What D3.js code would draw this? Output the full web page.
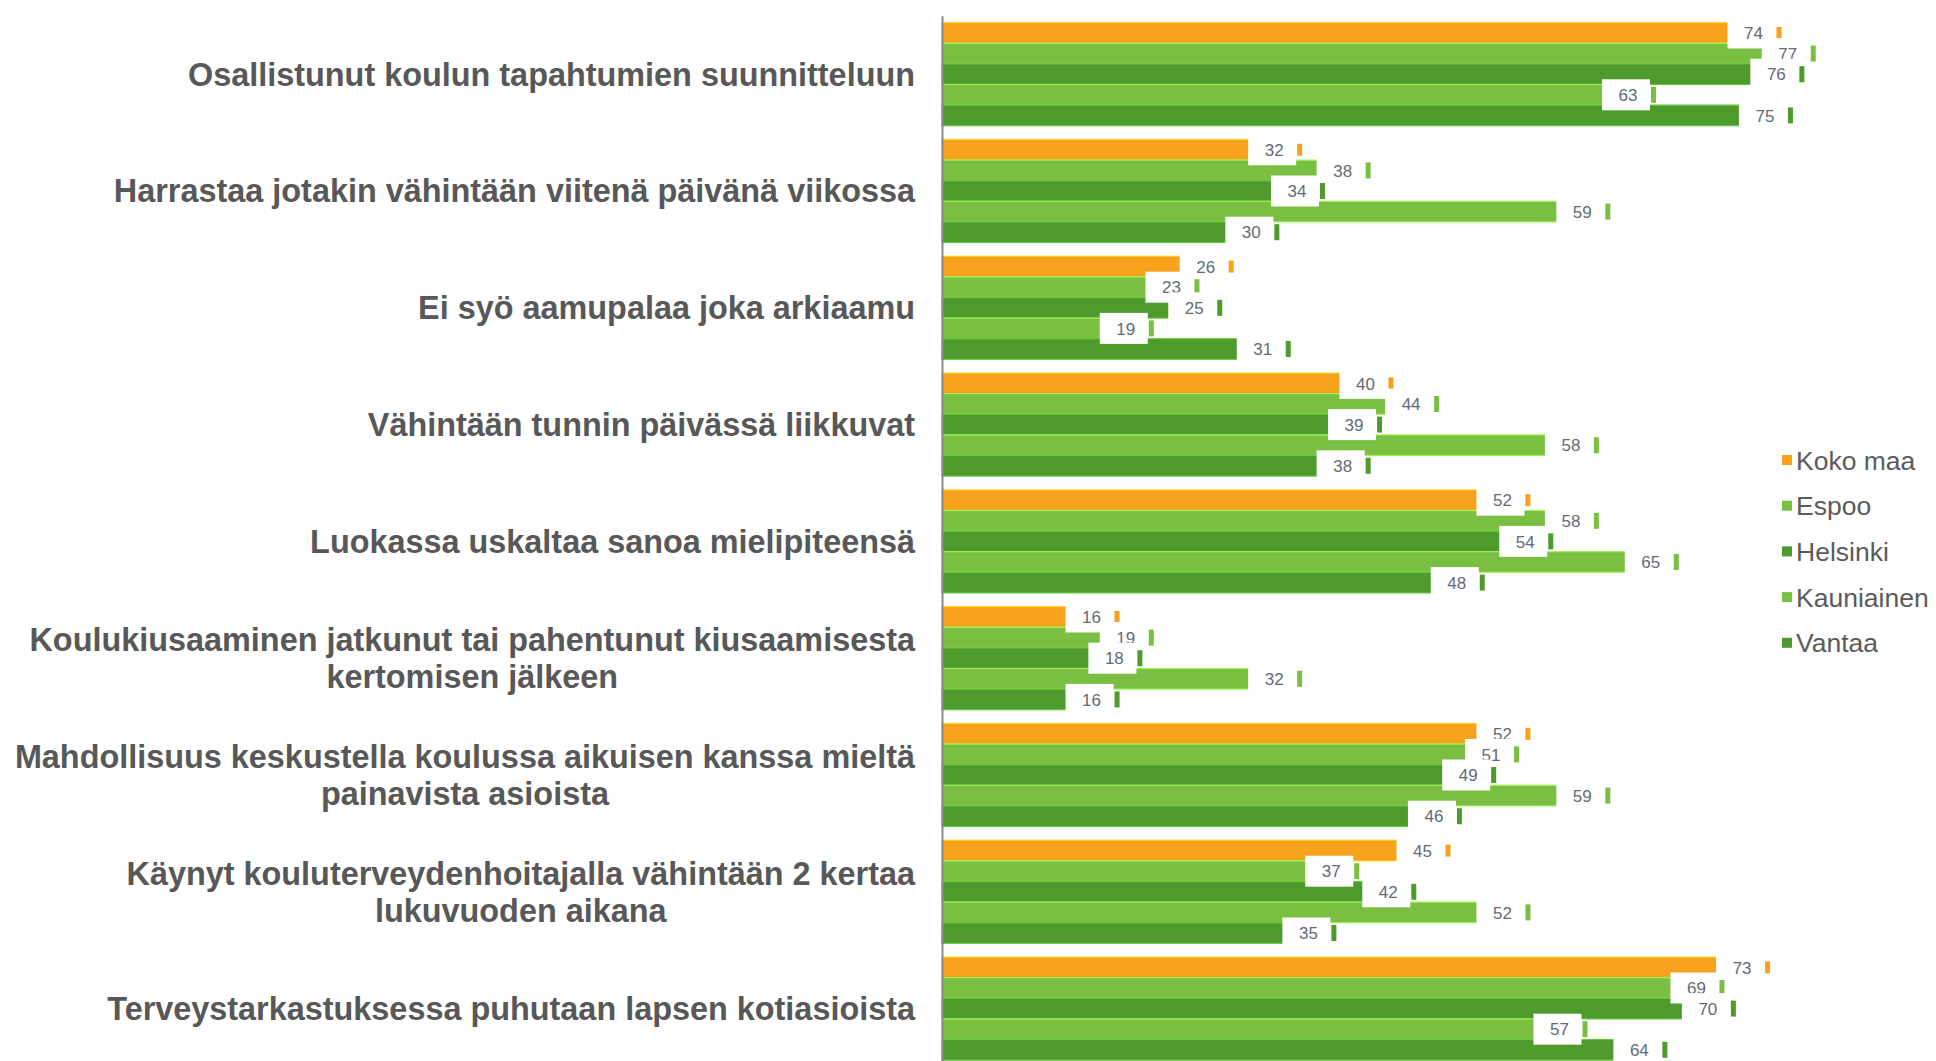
<!DOCTYPE html>
<html>
<head>
<meta charset="utf-8">
<script src="https://cdn.jsdelivr.net/npm/d3@7"></script>
<style>
  html, body { margin: 0; padding: 0; background: #ffffff; }
  svg { display: block; }
</style>
</head>
<body>
<script>
// ---- Data ----
const categories = [
  "Osallistunut koulun tapahtumien suunnitteluun",
  "Harrastaa jotakin vähintään viitenä päivänä viikossa",
  "Ei syö aamupalaa joka arkiaamu",
  "Vähintään tunnin päivässä liikkuvat",
  "Luokassa uskaltaa sanoa mielipiteensä",
  "Koulukiusaaminen jatkunut tai pahentunut kiusaamisesta\nkertomisen jälkeen",
  "Mahdollisuus keskustella koulussa aikuisen kanssa mieltä\npainavista asioista",
  "Käynyt kouluterveydenhoitajalla vähintään 2 kertaa\nlukuvuoden aikana",
  "Terveystarkastuksessa puhutaan lapsen kotiasioista"
];
const seriesNames = ["Koko maa", "Espoo", "Helsinki", "Kauniainen", "Vantaa"];
const kokoMaa    = [74, 32, 26, 40, 52, 16, 52, 45, 73];
const espoo      = [77, 38, 23, 44, 58, 19, 51, 37, 69];
const helsinki   = [76, 34, 25, 39, 54, 18, 49, 42, 70];
const kauniainen = [63, 59, 19, 58, 65, 32, 59, 52, 57];
const vantaa     = [75, 30, 31, 38, 48, 16, 46, 35, 64];
const seriesColors = ["#F6A21C", "#7BBF42", "#4F9A2D", "#7BBF42", "#4F9A2D"];

const seriesValues = [kokoMaa, espoo, helsinki, kauniainen, vantaa];

// ---- Layout ----
const W = 1936, H = 1061;
const svg = d3.select("body").append("svg").attr("width", W).attr("height", H);

const x = d3.scaleLinear().domain([5, 80]).range([942, 1798]);
const y = d3.scaleBand().domain(categories).range([15.8, 1067])
  .paddingInner(0.118).paddingOuter(0.059);
const ys = d3.scaleBand().domain(seriesNames).range([0, y.bandwidth()]);
const color = d3.scaleOrdinal().domain(seriesNames).range(seriesColors);

const rows = [];
seriesNames.forEach((s, si) => {
  categories.forEach((c, ci) => rows.push({ s, c, v: seriesValues[si][ci] }));
});

// bars
svg.append("g").selectAll("rect").data(rows).join("rect")
  .attr("x", x(5))
  .attr("y", d => y(d.c) + ys(d.s))
  .attr("width", d => x(d.v) - x(5))
  .attr("height", ys.bandwidth())
  .attr("fill", d => color(d.s))
  .attr("stroke", d => d3.color(color(d.s)).brighter(0.7))
  .attr("stroke-width", 1.2);

// axis line (category axis)
const ax = svg.append("g").attr("transform", `translate(${x(5)},0)`)
  .call(d3.axisLeft(y).tickSize(0).tickFormat(""));
ax.select(".domain").attr("stroke", "#8a8a8a").attr("stroke-width", 2);

// value labels: series by series (box, text, marker)
const boxW = 48, boxH = 31;
seriesNames.forEach((s, si) => {
  const g = svg.append("g");
  const data = rows.filter(r => r.s === s);
  const lg = g.selectAll("g").data(data).join("g")
    .attr("transform", d => `translate(${x(d.v)},${y(d.c) + ys(d.s) + ys.bandwidth() / 2})`);
  lg.append("rect")
    .attr("x", -2).attr("y", -boxH / 2)
    .attr("width", boxW).attr("height", boxH)
    .attr("fill", "#ffffff");
  lg.append("text")
    .attr("x", 24).attr("y", 0)
    .attr("dy", "0.36em")
    .attr("text-anchor", "middle")
    .attr("font-family", "'Liberation Sans', Arial, sans-serif")
    .attr("font-size", 17)
    .attr("fill", "#646a76")
    .text(d => d.v);
  const th = si === 0 ? 12 : 16;
  lg.append("rect")
    .attr("x", 47).attr("y", -th / 2)
    .attr("width", 5).attr("height", th)
    .attr("fill", color(s));
});

// category labels
const labelRight = 915;
const lab = svg.append("g")
  .attr("font-family", "'Liberation Sans', Arial, sans-serif")
  .attr("font-weight", "bold")
  .attr("font-size", 32.4)
  .attr("fill", "#585858");
categories.forEach(c => {
  const lines = c.split("\n");
  const cy = y(c) + y.bandwidth() / 2;
  const t = lab.append("text").attr("text-anchor", "middle");
  const lh = 37;
  lines.forEach((ln, i) => {
    t.append("tspan")
      .attr("y", cy + (i - (lines.length - 1) / 2) * lh)
      .attr("dy", "0.35em")
      .text(ln);
  });
  let maxW = 0;
  t.selectAll("tspan").each(function () { maxW = Math.max(maxW, this.getComputedTextLength()); });
  t.selectAll("tspan").attr("x", labelRight - maxW / 2);
});

// legend
const legend = svg.append("g").attr("transform", "translate(1782,460)");
const li = legend.selectAll("g").data(seriesNames).join("g")
  .attr("transform", (d, i) => `translate(0,${i * 45.7})`);
li.append("rect").attr("x", 0).attr("y", -5).attr("width", 10).attr("height", 10)
  .attr("fill", d => color(d));
li.append("text").attr("x", 14).attr("y", 0).attr("dy", "0.36em")
  .attr("font-family", "'Liberation Sans', Arial, sans-serif")
  .attr("font-size", 26.5)
  .attr("fill", "#5b5b5b")
  .text(d => d);
</script>
</body>
</html>
